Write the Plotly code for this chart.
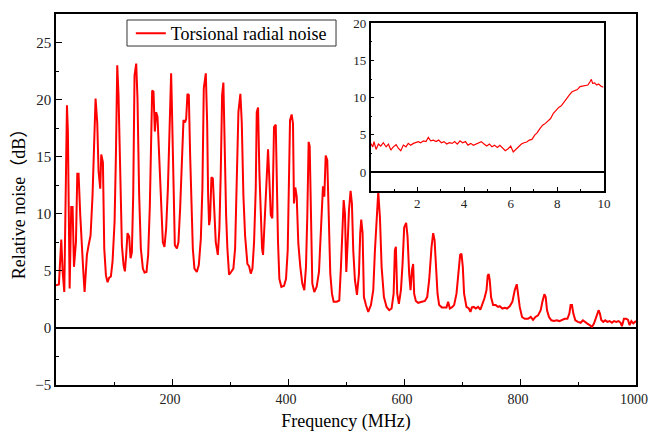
import plotly.graph_objects as go

# ---------------- main spectrum (MHz, dB) ----------------
freq = [0, 5, 9.1, 11.5, 14.3, 18.9, 20.5, 23.5, 26.3, 28.6, 31, 34.4, 36.7, 38.9, 41.8, 44.8, 46.8, 49.3,
        53.3, 56.2, 59.6, 63, 68.2, 71.1, 73.4, 76.3, 78, 80.9, 83.2, 86.1, 88.9, 91.8, 94.6, 97.5, 101,
        103.3, 105.6, 107.8, 110.7, 113.6, 116.5, 118.8, 121, 123.3, 126.2, 128.5, 130.8, 133.1, 135.4,
        138.3, 140.5, 143.4, 146.3, 149.8, 152.6, 156, 158.9, 161.8, 165.8, 168.1, 170.4, 172.7, 175,
        177.9, 181.3, 184.2, 187, 189.9, 192.9, 195.1, 196.8, 198.5, 199.8, 201.5, 203.2, 204.9, 208.4,
        211.1, 214, 217.5, 219.8, 222.4, 224.4, 226.7, 229, 231.3, 233.6, 235.9, 238.7, 242.8, 246.2,
        249.7, 252.4, 254.8, 258.3, 260.6, 262.3, 264, 265.7, 268, 270.4, 272.6, 275.5, 279, 281.7,
        284.1, 286.4, 288.6, 291, 293.3, 295.5, 298.4, 301.9, 305.8, 308.8, 311.7, 314.5, 317.9, 320.3,
        323.1, 326, 330, 332.9, 335.8, 338.7, 341.5, 344.4, 346.1, 348.4, 350.6, 353, 355.3, 357, 359.9,
        362.2, 365.6, 367.3, 370.3, 373, 375.9, 378.9, 380.6, 382.8, 385.1, 388.5, 393.2, 396.6, 399.5,
        403.5, 406.3, 408.6, 410.3, 412.6, 415, 417.8, 421.2, 424.6, 428.1, 431, 433.2, 435.6, 437.4,
        439.6, 441.9, 445.3, 449.4, 453.4, 456.9, 460.3, 462.6, 465, 467.7, 470.1, 472.9, 475.8, 478.7,
        483.9, 488.4, 491.3, 493.6, 496, 498.2, 500.5, 502.8, 505.1, 507.9, 510.2, 512.5, 515.4, 518.9,
        522.3, 524.5, 526.3, 528.6, 530.9, 534.4, 538.3, 543, 547, 549.9, 552.8, 555.6, 558.5, 561.4,
        565.4, 570, 574.5, 578.6, 582.1, 584.3, 586, 588.3, 591.2, 594.7, 597.5, 600.3, 603.7, 606.1,
        608.9, 611.3, 613.6, 615.8, 617.5, 620.4, 624.4, 630.3, 636, 640, 643.4, 647.5, 650.3, 652.7,
        654.9, 657.8, 660.6, 665.2, 668.7, 673.3, 676.1, 679, 682.4, 686.4, 690.5, 694, 696.8, 699.1,
        701.4, 703.6, 707.7, 711.8, 714.6, 717, 720.3, 723.8, 727.7, 731.7, 735.3, 738.7, 742.2, 744.4,
        746.1, 747.8, 750.1, 753.6, 758.2, 762.2, 765.1, 769.7, 773.7, 777.7, 782.3, 786.9, 790.9, 794.4,
        796.6, 799.5, 803.5, 808.2, 813.8, 818.5, 822.5, 826.6, 831.1, 835.7, 838.6, 842, 844.3, 846.6,
        850, 854.1, 858.7, 863.3, 867.9, 872.4, 877, 881.7, 885.1, 887.3, 889.6, 892, 895.4, 899.9,
        904.5, 908.5, 911.4, 916.1, 920.1, 924.1, 927.5, 930.4, 933.2, 935.5, 937.8, 940.1, 943.6, 947,
        950.5, 954.5, 958.5, 962, 966, 970, 973.5, 975.7, 979.2, 983.3, 986.2, 989, 992, 995.3, 1000]

noise = [3.74, 3.8, 7.74, 4.9, 3.15, 19.5, 17.2, 3.45, 10.6, 10.6, 5.35, 7.5, 13.5, 13.5, 9.9, 6.1, 5.2, 3.15,
         6.4, 7.24, 8.1, 11.6, 20.1, 18.0, 13.7, 12.2, 15.2, 14.5, 6.95, 4.6, 4.0, 4.4, 4.5, 5.8, 9.3,
         15.1, 23.0, 20.4, 12.2, 7.24, 5.5, 4.96, 6.4, 8.3, 8.0, 6.1, 6.6, 11.6, 22.1,
         23.15, 20.1, 11.6, 6.95, 5.2, 4.85, 4.9, 6.4, 10.7, 20.8, 20.7, 17.2, 18.9, 18.5,
         15.1, 9.6, 7.5, 7.1, 8.7, 12.2, 16.6, 21.0, 22.3, 19.5, 15.1, 10.7, 7.24, 6.95,
         7.5, 10.45, 16.3, 18.2, 18.0, 18.3, 20.5, 20.4, 15.1, 9.9, 6.95, 5.2, 4.9, 5.5,
         7.8, 12.2, 21.0, 22.3, 18.0, 11.6, 9.0, 9.6, 13.2, 13.1, 10.7, 7.5, 6.4, 8.7,
         13.7, 20.4, 21.5, 15.1, 9.9, 6.95, 4.67, 4.9, 5.2, 6.95, 12.2, 18.9, 20.5, 18.0,
         11.6, 8.1, 5.6, 5.4, 4.76, 5.2, 7.5, 12.2, 18.9, 19.3, 13.7, 9.3, 6.95, 6.4, 9.3,
         12.8, 15.65, 13.7, 9.9, 9.6, 17.6, 17.8, 12.2, 7.5, 4.3, 3.6, 3.7, 4.3, 6.8,
         18.2, 18.7, 17.9, 10.9, 12.3, 11.5, 7.4, 5.35, 3.9, 3.3, 5.35, 9.7, 16.3, 15.9,
         9.7, 3.9, 3.15, 3.6, 4.9, 9.1, 12.4, 11.5, 15.1, 14.7, 9.7, 4.76, 3.0, 2.3,
         2.3, 2.4, 5.35, 8.8, 11.2, 10.0, 4.9, 7.4, 10.3, 12.0, 10.9, 6.8, 4.2, 2.9,
         4.7, 8.3, 9.5, 8.3, 2.7, 2.0, 1.4, 2.0, 3.3, 6.8, 10.0, 11.9, 9.7, 5.35,
         2.7, 1.84, 1.55, 1.7, 3.0, 6.8, 7.1, 3.0, 2.1, 3.3, 5.6, 8.8, 9.2, 8.0,
         4.76, 3.3, 5.05, 5.6, 3.0, 2.36, 2.2, 2.3, 2.36, 2.7, 4.2, 7.1, 8.3, 7.7,
         5.05, 3.0, 2.0, 1.8, 1.8, 1.8, 2.3, 1.7, 1.8, 2.0, 3.0, 4.76, 6.4, 6.5,
         5.35, 3.0, 1.84, 1.7, 1.4, 1.8, 1.84, 1.7, 1.84, 1.6, 2.1, 2.6, 3.3, 4.6,
         4.7, 4.2, 2.7, 2.0, 2.0, 1.84, 1.9, 1.7, 1.76, 1.7, 1.9, 2.3, 3.3, 3.83,
         3.0, 1.84, 0.96, 0.8, 0.8, 0.96, 0.7, 0.96, 1.1, 1.55, 2.3, 2.95, 2.7, 1.55,
         0.96, 0.67, 0.6, 0.67, 0.6, 0.7, 0.8, 0.8, 1.26, 2.0, 2.0, 1.26, 0.67, 0.53,
         0.45, 0.67, 0.53, 0.38, 0.24, 0.09, 0.38, 0.8, 1.4, 1.55, 1.26, 0.7, 0.53, 0.67,
         0.53, 0.6, 0.45, 0.6, 0.53, 0.6, 0.45, 0.15, 0.8, 0.8, 0.7, 0.24, 0.6, 0.4, 0.6]

# ---------------- inset (0-10 MHz) ----------------
inset_freq = [0.00, 0.09, 0.14, 0.23, 0.33, 0.43, 0.54, 0.66, 0.76, 0.86, 0.97, 1.09, 1.19, 1.29, 1.40,
              1.51, 1.61, 1.71, 1.83, 1.94, 2.04, 2.14, 2.26, 2.37, 2.47, 2.57, 2.69, 2.80, 2.91, 3.03,
              3.14, 3.26, 3.37, 3.49, 3.60, 3.71, 3.83, 3.94, 4.06, 4.17, 4.29, 4.40, 4.51, 4.63, 4.74,
              4.86, 4.97, 5.09, 5.20, 5.31, 5.43, 5.54, 5.66, 5.77, 5.89, 6.00, 6.11, 6.23, 6.34, 6.46,
              6.57, 6.69, 6.80, 6.91, 7.03, 7.14, 7.26, 7.37, 7.49, 7.60, 7.71, 7.83, 7.94, 8.06, 8.17,
              8.29, 8.40, 8.51, 8.63, 8.74, 8.86, 8.97, 9.09, 9.20, 9.31, 9.40, 9.46, 9.51, 9.60, 9.69,
              9.77, 9.86, 9.97]
inset_noise = [3.86, 3.4, 4.1, 3.05, 3.77, 3.5, 3.95, 3.4, 3.77, 2.96, 3.4, 3.68, 3.18, 2.87, 3.63,
               3.4, 3.86, 3.6, 3.86, 3.95, 4.1, 3.95, 4.2, 4.1, 4.66, 4.2, 4.3, 4.1, 4.3, 3.95,
               4.1, 3.77, 3.95, 3.86, 4.1, 3.77, 4.2, 3.95, 4.1, 3.63, 3.86, 3.6, 3.77, 3.95, 4.1,
               3.77, 3.5, 3.77, 3.4, 3.6, 3.3, 3.6, 3.18, 2.87, 3.14, 3.5, 2.7, 3.05, 3.4, 3.77,
               3.95, 4.04, 4.3, 4.4, 4.98, 5.3, 5.87, 6.3, 6.55, 6.9, 7.2, 7.9, 8.25, 8.7, 8.9,
               9.46, 9.9, 10.36, 10.8, 10.94, 11.1, 11.5, 11.57, 11.66, 11.7, 12.15, 12.47, 11.93, 12.0, 11.7,
               11.84, 11.57, 11.4]

main_xticks = [200, 400, 600, 800, 1000]
main_xminor = [100, 300, 500, 700, 900]
main_yticks = [-5, 0, 5, 10, 15, 20, 25]
main_yminor = [-2.5, 2.5, 7.5, 12.5, 17.5, 22.5]
inset_xticks = [2, 4, 6, 8, 10]
inset_xminor = [1, 3, 5, 7, 9]
inset_yticks = [0, 5, 10, 15, 20]
inset_yminor = [2.5, 7.5, 12.5, 17.5]

FONT = "Liberation Serif, Times New Roman, serif"
TITLE_FONT = "Liberation Serif, Noto Sans CJK SC, serif"
RED = "#ff0000"

fig = go.Figure()
fig.add_trace(go.Scatter(x=freq, y=noise, mode="lines", name="Torsional radial noise",
                         line=dict(color=RED, width=2)))
fig.add_trace(go.Scatter(x=inset_freq, y=inset_noise, mode="lines", showlegend=False,
                         line=dict(color=RED, width=1.2), xaxis="x2", yaxis="y2"))

axis_common = dict(showline=True, linecolor="black", mirror=True, ticks="inside",
                   tickcolor="black", showgrid=False, automargin=False, ticklabeloverflow="allow")
main_tickfont = dict(family=FONT, size=15, color="#222")
inset_tickfont = dict(family=FONT, size=13, color="#222")

fig.update_layout(
    template="none",
    width=649, height=432,
    margin=dict(l=56, r=13, t=14, b=47, autoexpand=False),
    paper_bgcolor="white", plot_bgcolor="white",
    font=dict(family=FONT, color="black"),
    xaxis=dict(range=[0, 1000], tickmode="array", tickvals=main_xticks, ticklen=6, tickwidth=1.2,
               linewidth=1.5, zeroline=False,
               tickfont=dict(family=FONT, size=14, color="#222"), ticklabelshift=-2,
               minor=dict(tickmode="array", tickvals=main_xminor, ticks="inside", ticklen=3,
                          tickcolor="black"),
               title=dict(text="Frequency (MHz)", font=dict(family=FONT, size=18), standoff=10),
               **axis_common),
    yaxis=dict(range=[-5, 27.5], tickmode="array", tickvals=main_yticks, ticklen=6, tickwidth=1.2,
               linewidth=1.5, zeroline=True, zerolinecolor="black", zerolinewidth=2,
               tickfont=main_tickfont,
               minor=dict(tickmode="array", tickvals=main_yminor, ticks="inside", ticklen=3,
                          tickcolor="black"),
               title=dict(text="Relative noise（dB）", font=dict(family=TITLE_FONT, size=18),
                          standoff=5),
               **axis_common),
    xaxis2=dict(domain=[0.5426, 0.9448], anchor="y2", range=[0, 10], tickmode="array",
                tickvals=inset_xticks, ticklen=4, tickwidth=1, linewidth=1.5, zeroline=False,
                tickfont=inset_tickfont,
                minor=dict(tickmode="array", tickvals=inset_xminor, ticks="inside", ticklen=2,
                           tickcolor="black"),
                **axis_common),
    yaxis2=dict(domain=[0.5237, 0.9749], anchor="x2", range=[-2.5, 20], tickmode="array",
                tickvals=inset_yticks, ticklen=4, tickwidth=1, linewidth=1.5,
                zeroline=True, zerolinecolor="black", zerolinewidth=2, tickfont=inset_tickfont,
                minor=dict(tickmode="array", tickvals=inset_yminor, ticks="inside", ticklen=2,
                           tickcolor="black"),
                **axis_common),
    legend=dict(x=0.129, y=0.9973, xanchor="left", yanchor="top",
                borderwidth=0, bgcolor="rgba(0,0,0,0)",
                font=dict(family=FONT, size=18, color="black"),
                tracegroupgap=0, itemwidth=30),
    showlegend=True,
    # legend frame (tighter than plotly's own legend border)
    shapes=[dict(type="rect", xref="paper", yref="paper", x0=0.1224, x1=0.4828,
                 y0=0.9137, y1=0.9838, line=dict(color="#333", width=1),
                 fillcolor="white", layer="above")],
)

fig.write_html("out.html", config={"displayModeBar": False},
               post_script="document.body.style.margin='0';document.body.style.overflow='hidden';")
